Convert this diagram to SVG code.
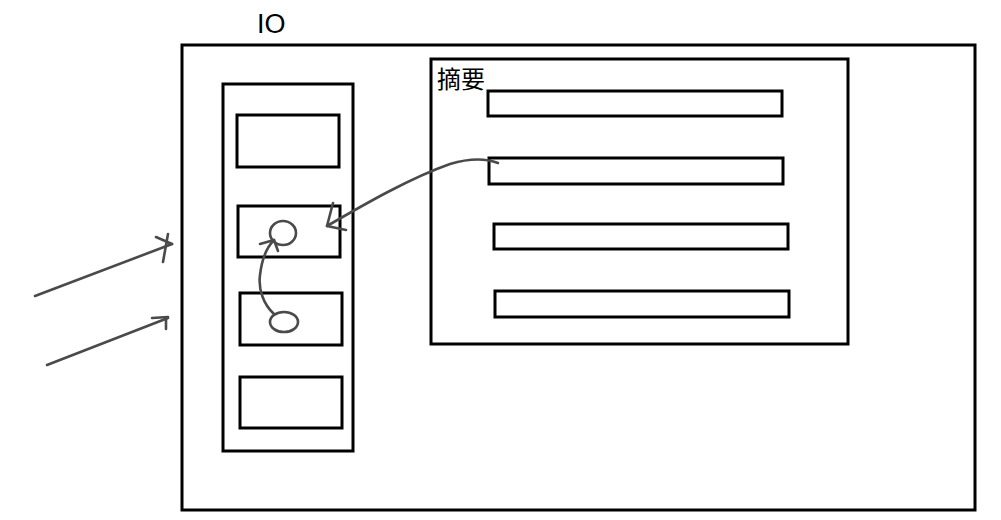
<svg xmlns="http://www.w3.org/2000/svg" width="1001" height="520" viewBox="0 0 1001 520">
<style>
.box{fill:none;stroke:#000;stroke-width:3}
.sk{fill:none;stroke:#4a4a4a;stroke-width:2.6;stroke-linecap:round;stroke-linejoin:round}
.t{font-family:"Liberation Sans","Noto Sans CJK SC",sans-serif;fill:#000}
</style>
<rect width="1001" height="520" fill="#fff"/>
<g id="io">
<rect class="box" x="182" y="45" width="793" height="465"/>
<text class="t" x="257" y="33" font-size="27">IO</text>
</g>
<g id="column">
<rect class="box" x="223" y="84" width="130" height="367"/>
</g>
<g id="slot1"><rect class="box" x="237" y="115" width="102" height="52"/></g>
<g id="slot2"><rect class="box" x="238" y="206" width="102" height="51"/>
<ellipse class="sk" cx="283" cy="233" rx="13" ry="12"/></g>
<g id="slot3"><rect class="box" x="240" y="293" width="102" height="52"/>
<ellipse class="sk" cx="284" cy="322" rx="14" ry="10"/></g>
<g id="slot4"><rect class="box" x="240" y="377" width="102" height="51"/></g>
<g id="summary">
<rect class="box" x="431" y="59" width="417" height="285"/>
<text class="t" x="437" y="88" font-size="24">摘要</text>
</g>
<g id="bar1"><rect class="box" x="488" y="91" width="294" height="25"/></g>
<g id="bar2"><rect class="box" x="489" y="158" width="294" height="26"/></g>
<g id="bar3"><rect class="box" x="494" y="224" width="294" height="25"/></g>
<g id="bar4"><rect class="box" x="495" y="291" width="294" height="26"/></g>
<g id="connectors">
<path class="sk" d="M35,296 L172,244"/>
<path class="sk" d="M156,237 L172,244 M168,234 L163,262"/>
<path class="sk" d="M47,365 L168,318"/>
<path class="sk" d="M152,318 L168,317 M166,318 L166,329"/>
<path class="sk" d="M498,163 C485,158 470,158 450,164 C410,178 365,204 327,226"/>
<path class="sk" d="M333,203 L327,226 L346,230"/>
<path class="sk" d="M274,314 C264,305 258,290 260,275 C262,258 266,248 274,240"/>
<path class="sk" d="M260,244 L274,240 L278,251"/>
</g>
</svg>
